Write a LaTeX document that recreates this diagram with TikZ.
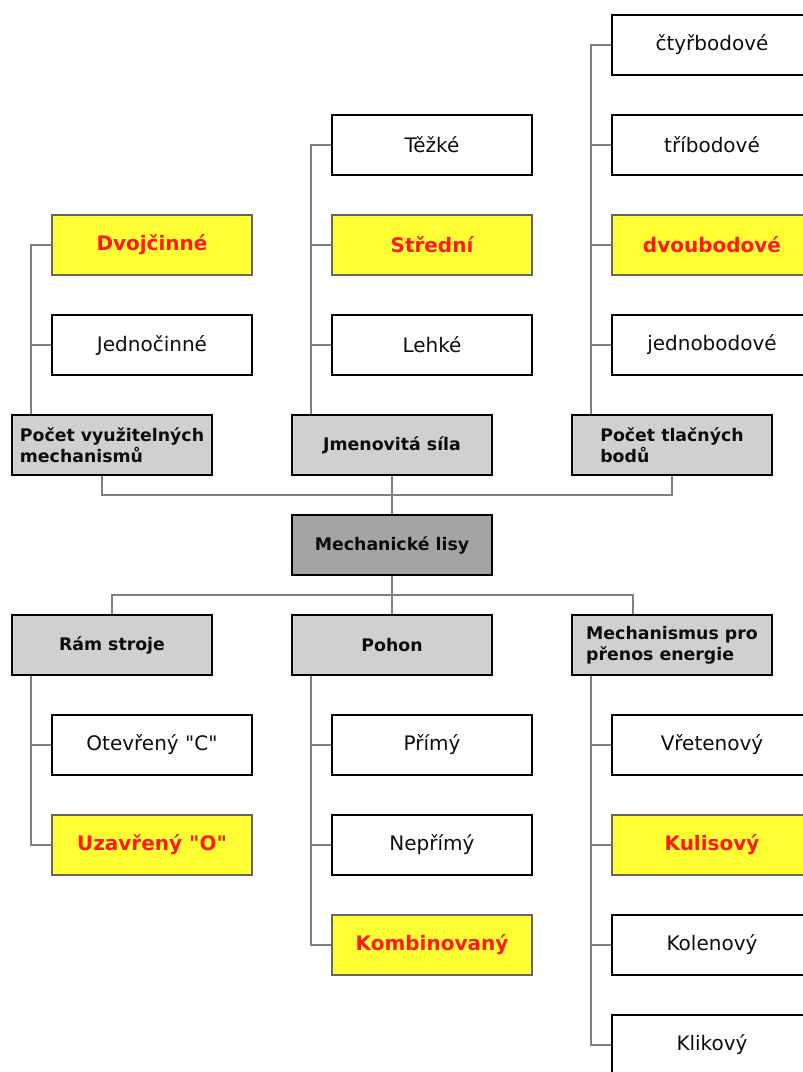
\documentclass[tikz,border=0pt]{standalone}
\usepackage{fontspec}
\setmainfont{DejaVu Sans}
\usepackage{tikz}

\definecolor{linegray}{HTML}{808080}
\definecolor{boxgray}{HTML}{D0D0D0}
\definecolor{rootgray}{HTML}{A4A4A4}
\definecolor{hiyellow}{HTML}{FFFF33}
\definecolor{hired}{HTML}{FF1A1A}

\tikzset{
  box/.style={draw=black, line width=1.5pt, minimum width=150pt, minimum height=45pt,
    inner sep=2pt, font=\fontsize{15}{18}\selectfont, text=black!95},
  pick/.style={box, draw=black!60, line width=1pt, fill=hiyellow, text=hired,
    font=\fontsize{15}{18}\selectfont\bfseries},
  group/.style={box, fill=boxgray, align=left, font=\fontsize{13}{15.5}\selectfont\bfseries},
  root/.style={group, fill=rootgray},
  conn/.style={draw=linegray, line width=1.2pt}
}

\begin{document}
\begin{tikzpicture}[x=0.75pt, y=-0.75pt]
        \useasboundingbox (0,0) rectangle (803,1072);
        % root and groups
        \node[root] (mech) at (392,545) {Mechanické lisy};
        \node[group] (pmech) at (112,445) {Počet využitelných\\mechanismů};
        \node[group] (sila) at (392,445) {Jmenovitá síla};
        \node[group] (body) at (672,445) {Počet tlačných\\bodů};
        \node[group] (ram) at (112,645) {Rám stroje};
        \node[group] (pohon) at (392,645) {Pohon};
        \node[group] (prenos) at (672,645) {Mechanismus pro\\přenos energie};
        % upper leaves
        \node[pick] (dvoj) at (152,245) {Dvojčinné};
        \node[box] (jedno) at (152,345) {Jednočinné};
        \node[box] (tezke) at (432,145) {Těžké};
        \node[pick] (stred) at (432,245) {Střední};
        \node[box] (lehke) at (432,345) {Lehké};
        \node[box] (ctyr) at (712,45) {čtyřbodové};
        \node[box] (tri) at (712,145) {tříbodové};
        \node[pick] (dvou) at (712,245) {dvoubodové};
        \node[box] (jednob) at (712,345) {jednobodové};
        % lower leaves
        \node[box] (otev) at (152,745) {Otevřený \textquotedbl C\textquotedbl};
        \node[pick] (uzav) at (152,845) {Uzavřený \textquotedbl O\textquotedbl};
        \node[box] (primy) at (432,745) {Přímý};
        \node[box] (neprimy) at (432,845) {Nepřímý};
        \node[pick] (komb) at (432,945) {Kombinovaný};
        \node[box] (vret) at (712,745) {Vřetenový};
        \node[pick] (kulis) at (712,845) {Kulisový};
        \node[box] (kolen) at (712,945) {Kolenový};
        \node[box] (klik) at (712,1045) {Klikový};
        % buses
        \coordinate (topbus) at (392,495);
        \coordinate (botbus) at (392,595);
        \draw[conn] (pmech.south) ++(-10,0) |- (topbus);
        \draw[conn] (body.south) |- (topbus);
        \draw[conn] (sila.south) -- (mech.north);
        \draw[conn] (ram.north) |- (botbus);
        \draw[conn] (prenos.north) ++(-39,0) |- (botbus);
        \draw[conn] (mech.south) -- (pohon.north);
        % stems to leaves
        \foreach \p/\c in {pmech/dvoj, pmech/jedno, sila/tezke, sila/stred, sila/lehke,
            body/ctyr, body/tri, body/dvou, body/jednob}
          \draw[conn] (\p.north west) ++(20,0) |- (\c.west);
        \foreach \p/\c in {ram/otev, ram/uzav, pohon/primy, pohon/neprimy, pohon/komb,
            prenos/vret, prenos/kulis, prenos/kolen, prenos/klik}
          \draw[conn] (\p.south west) ++(20,0) |- (\c.west);
    \end{tikzpicture}
\end{document}
